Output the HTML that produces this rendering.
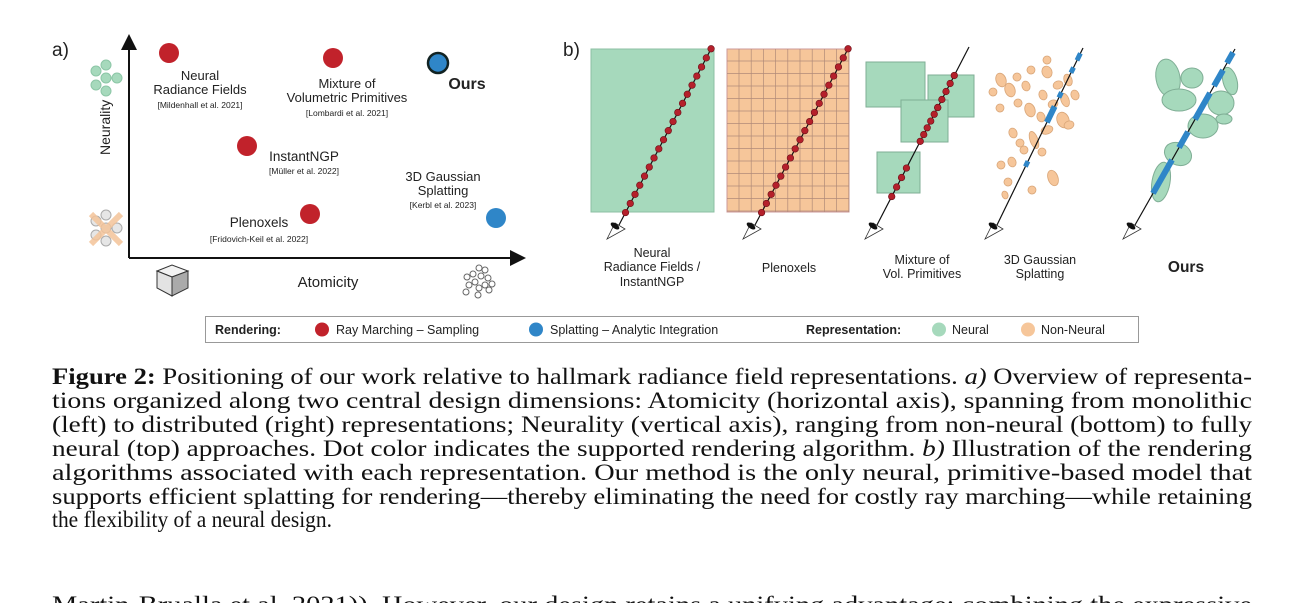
<!DOCTYPE html>
<html><head><meta charset="utf-8"><style>
html,body{margin:0;padding:0;background:#fff;width:1304px;height:603px;overflow:hidden}
svg{display:block}
.s{font-family:"Liberation Sans",sans-serif;fill:#222}
.c{font-family:"Liberation Serif",serif;font-size:23px;fill:#111}
</style></head><body>
<svg id="g" width="1304" height="603" viewBox="0 0 1304 603" xmlns="http://www.w3.org/2000/svg">
<defs>
<marker id="ar" markerWidth="8" markerHeight="8" refX="6" refY="4" orient="auto"><path d="M0,0 L8,4 L0,8 z" fill="#111"/></marker>
</defs>
<text x="52" y="56" class="s" font-size="19">a)</text>
<line x1="129" y1="258" x2="129" y2="38" stroke="#111" stroke-width="2" marker-end="url(#ar)"/>
<line x1="129" y1="258" x2="522" y2="258" stroke="#111" stroke-width="2" marker-end="url(#ar)"/>
<g fill="#a6d9bc" stroke="#8cc6a6" stroke-width="1">
<circle cx="96" cy="71" r="5"/><circle cx="96" cy="85" r="5"/><circle cx="106" cy="65" r="5"/><circle cx="106" cy="78" r="5"/><circle cx="106" cy="91" r="5"/><circle cx="117" cy="78" r="5"/></g>
<g fill="#e6e6e6" stroke="#aaa" stroke-width="1">
<circle cx="96" cy="221" r="5"/><circle cx="96" cy="235" r="5"/><circle cx="106" cy="215" r="5"/><circle cx="106" cy="228" r="5"/><circle cx="106" cy="241" r="5"/><circle cx="117" cy="228" r="5"/></g>
<path d="M91,214 L121,244 M121,214 L91,244" stroke="#f4c49a" stroke-width="6" opacity="0.85"/>
<text transform="translate(110,155) rotate(-90)" class="s" font-size="14">Neurality</text>
<text x="328" y="287" class="s" font-size="15" text-anchor="middle">Atomicity</text>
<g stroke="#333" stroke-width="1"><path d="M157,271 L172,265 L188,271 L172,277 z" fill="#f2f2f2"/><path d="M157,271 L172,277 L172,296 L157,288 z" fill="#e3e3e3"/><path d="M172,277 L188,271 L188,288 L172,296 z" fill="#aaa"/></g>
<g fill="none" stroke="#666" stroke-width="1">
<circle cx="479" cy="268" r="3"/><circle cx="485" cy="270" r="3"/><circle cx="473" cy="274" r="3"/><circle cx="481" cy="276" r="3"/><circle cx="488" cy="278" r="3"/><circle cx="467" cy="277" r="3"/><circle cx="475" cy="282" r="3"/><circle cx="485" cy="285" r="3"/><circle cx="492" cy="284" r="3"/><circle cx="469" cy="285" r="3"/><circle cx="479" cy="288" r="3"/><circle cx="466" cy="292" r="3"/><circle cx="478" cy="295" r="3"/><circle cx="489" cy="290" r="3"/></g>
<g fill="#c1222b"><circle cx="169" cy="53" r="10"/><circle cx="333" cy="58" r="10"/><circle cx="247" cy="146" r="10"/><circle cx="310" cy="214" r="10"/></g>
<circle cx="438" cy="63" r="10" fill="#2f86c8" stroke="#122" stroke-width="2.5"/>
<circle cx="496" cy="218" r="10" fill="#2f86c8"/>
<g class="s" text-anchor="middle" font-size="13">
<text x="200" y="80">Neural</text><text x="200" y="94">Radiance Fields</text>
<text x="347" y="88">Mixture of</text><text x="347" y="102">Volumetric Primitives</text>
<text x="304" y="161" font-size="13.5">InstantNGP</text>
<text x="443" y="181">3D Gaussian</text><text x="443" y="195">Splatting</text>
<text x="259" y="227" font-size="13.5">Plenoxels</text>
<text x="467" y="89" font-size="16" font-weight="bold">Ours</text>
</g>
<g class="s" text-anchor="middle" font-size="8.5">
<text x="200" y="108">[Mildenhall et al. 2021]</text>
<text x="347" y="116">[Lombardi et al. 2021]</text>
<text x="304" y="174">[Müller et al. 2022]</text>
<text x="443" y="208">[Kerbl et al. 2023]</text>
<text x="259" y="242">[Fridovich-Keil et al. 2022]</text>
</g>
<text x="563" y="56" class="s" font-size="19">b)</text>
<rect x="591" y="49" width="123" height="163" fill="#a6d9bc" stroke="#8cbfa3"/>
<rect x="727" y="49" width="122" height="163" fill="#f6c69a" stroke="#c99"/>
<g id="grid" stroke="#b08a78" stroke-width="0.7"></g>
<g fill="#a6d9bc" stroke="#7fae95" stroke-width="1">
<rect x="866" y="62" width="59" height="45"/><rect x="928" y="75" width="46" height="42"/><rect x="901" y="100" width="47" height="42"/><rect x="877" y="152" width="43" height="41"/></g>
<g id="gs" fill="#f6c69a" stroke="#d9a679" stroke-width="0.8"></g>
<g id="ours" fill="#a6d9bc" stroke="#7fae95" stroke-width="1">
<ellipse cx="1168" cy="78" rx="12" ry="19" transform="rotate(-10 1168 78)"/>
<ellipse cx="1192" cy="78" rx="11" ry="10"/>
<ellipse cx="1179" cy="100" rx="17" ry="11"/>
<ellipse cx="1230" cy="81" rx="7" ry="14" transform="rotate(-15 1230 81)"/>
<ellipse cx="1221" cy="103" rx="13" ry="12"/>
<ellipse cx="1224" cy="119" rx="8" ry="5"/>
<ellipse cx="1203" cy="126" rx="15" ry="12"/>
<ellipse cx="1178" cy="154" rx="14" ry="11" transform="rotate(25 1178 154)"/>
<ellipse cx="1161" cy="182" rx="9" ry="20" transform="rotate(10 1161 182)"/>
</g>
<g id="rays"></g>
<g class="s" text-anchor="middle" font-size="12.5">
<text x="652" y="257">Neural</text><text x="652" y="271">Radiance Fields /</text><text x="652" y="286">InstantNGP</text>
<text x="789" y="272">Plenoxels</text>
<text x="922" y="264">Mixture of</text><text x="922" y="278">Vol. Primitives</text>
<text x="1040" y="264">3D Gaussian</text><text x="1040" y="278">Splatting</text>
<text x="1186" y="272" font-size="15.5" font-weight="bold">Ours</text>
</g>
<rect x="205.5" y="316.5" width="933" height="26" fill="#fff" stroke="#999"/>
<g class="s" font-size="12.5">
<text x="215" y="334" font-weight="bold">Rendering:</text>
<circle cx="322" cy="329.5" r="7" fill="#c1222b"/><text x="336" y="334">Ray Marching – Sampling</text>
<circle cx="536" cy="329.5" r="7" fill="#2f86c8"/><text x="550" y="334">Splatting – Analytic Integration</text>
<text x="806" y="334" font-weight="bold">Representation:</text>
<circle cx="939" cy="329.5" r="7" fill="#a6d9bc"/><text x="952" y="334">Neural</text>
<circle cx="1028" cy="329.5" r="7" fill="#f6c69a"/><text x="1041" y="334">Non-Neural</text>
</g>
<g class="c">
<text x="52" y="384" textLength="1200" lengthAdjust="spacingAndGlyphs"><tspan font-weight="bold">Figure 2:</tspan> Positioning of our work relative to hallmark radiance field representations. <tspan font-style="italic">a)</tspan> Overview of representa-</text>
<text x="52" y="408" textLength="1200" lengthAdjust="spacingAndGlyphs">tions organized along two central design dimensions: Atomicity (horizontal axis), spanning from monolithic</text>
<text x="52" y="432" textLength="1200" lengthAdjust="spacingAndGlyphs">(left) to distributed (right) representations; Neurality (vertical axis), ranging from non-neural (bottom) to fully</text>
<text x="52" y="456" textLength="1200" lengthAdjust="spacingAndGlyphs">neural (top) approaches. Dot color indicates the supported rendering algorithm. <tspan font-style="italic">b)</tspan> Illustration of the rendering</text>
<text x="52" y="480" textLength="1200" lengthAdjust="spacingAndGlyphs">algorithms associated with each representation.  Our method is the only neural, primitive-based model that</text>
<text x="52" y="504" textLength="1200" lengthAdjust="spacingAndGlyphs">supports efficient splatting for rendering—thereby eliminating the need for costly ray marching—while retaining</text>
<text x="52" y="527" textLength="280" lengthAdjust="spacingAndGlyphs">the flexibility of a neural design.</text>
<text x="52" y="612" textLength="1200" lengthAdjust="spacingAndGlyphs">Martin-Brualla et al. 2021)). However, our design retains a unifying advantage: combining the expressive</text>
</g>
</svg>
<script>
var NS="http://www.w3.org/2000/svg";
function el(p,t,a){var e=document.createElementNS(NS,t);for(var k in a)e.setAttribute(k,a[k]);p.appendChild(e);return e;}
var grid=document.getElementById('grid');
for(var x=739;x<849;x+=12.2)el(grid,'line',{x1:x,y1:49,x2:x,y2:212});
for(var y=61;y<212;y+=12.5)el(grid,'line',{x1:727,y1:y,x2:849,y2:y});
var gs=document.getElementById('gs');
var E=[[1001,80,5,7],[1017,77,4,4],[1031,70,4,4],[1047,72,5,6],[993,92,4,4],[1010,90,5,7],[1026,86,4,5],[1043,95,4,5],[1058,85,5,4],[1068,80,4,6],[1000,108,4,4],[1018,103,4,4],[1030,110,5,7],[1065,100,4,7],[1053,104,5,4],[1041,117,4,5],[1063,120,6,8],[1047,130,6,4],[1069,125,5,4],[1013,133,4,5],[1020,143,4,4],[1034,140,4,9],[1024,150,4,4],[1042,152,4,4],[1012,162,4,5],[1001,165,4,4],[1053,178,5,8],[1008,182,4,4],[1032,190,4,4],[1005,195,3,4],[1075,95,4,5],[1047,60,4,4]];
E.forEach(function(e){el(gs,'ellipse',{cx:e[0],cy:e[1],rx:e[2],ry:e[3],transform:'rotate(-20 '+e[0]+' '+e[1]+')'});});
var R=document.getElementById('rays');
function ray(x0,y0,x1,y1){el(R,'line',{x1:x0,y1:y0,x2:x1,y2:y1,stroke:'#111','stroke-width':1.2});
 el(R,'path',{d:'M'+(x0-12)+','+(y0+14)+' L'+(x0-4)+','+(y0-2)+' L'+(x0+6)+','+(y0+4)+' z',fill:'#fff',stroke:'#333','stroke-width':0.8});
 el(R,'ellipse',{cx:x0-4,cy:y0+1,rx:5,ry:2.5,fill:'#111',transform:'rotate(35 '+(x0-4)+' '+(y0+1)+')'});}
function pt(x0,y0,x1,y1,t){return [x0+(x1-x0)*t,y0+(y1-y0)*t];}
function dots(x0,y0,x1,y1,a,b,n){for(var i=0;i<n;i++){var p=pt(x0,y0,x1,y1,a+(b-a)*i/(n-1));el(R,'circle',{cx:p[0],cy:p[1],r:3.3,fill:'#b5202b',stroke:'#6a1018','stroke-width':0.6});}}
ray(619,225,712,47);dots(619,225,712,47,0.07,0.99,19);
ray(755,225,849,47);dots(755,225,849,47,0.07,0.99,19);
ray(877,225,969,47);dots(877,225,969,47,0.16,0.32,4);dots(877,225,969,47,0.47,0.66,6);dots(877,225,969,47,0.66,0.84,5);
ray(997,225,1083,48);ray(1135,225,1235,49);
function seg(x0,y0,x1,y1,a,b,w){var p=pt(x0,y0,x1,y1,a),q=pt(x0,y0,x1,y1,b);el(R,'line',{x1:p[0],y1:p[1],x2:q[0],y2:q[1],stroke:'#2f86c8','stroke-width':w,'stroke-linecap':'butt'});}
seg(997,225,1083,48,0.33,0.36,5);seg(997,225,1083,48,0.58,0.67,6);seg(997,225,1083,48,0.72,0.75,5);seg(997,225,1083,48,0.86,0.89,5);seg(997,225,1083,48,0.93,0.97,5);
seg(1135,225,1235,49,0.18,0.37,6);seg(1135,225,1235,49,0.44,0.53,6);seg(1135,225,1235,49,0.6,0.75,6);seg(1135,225,1235,49,0.79,0.88,6);seg(1135,225,1235,49,0.92,0.98,6);
</script>
</body></html>
